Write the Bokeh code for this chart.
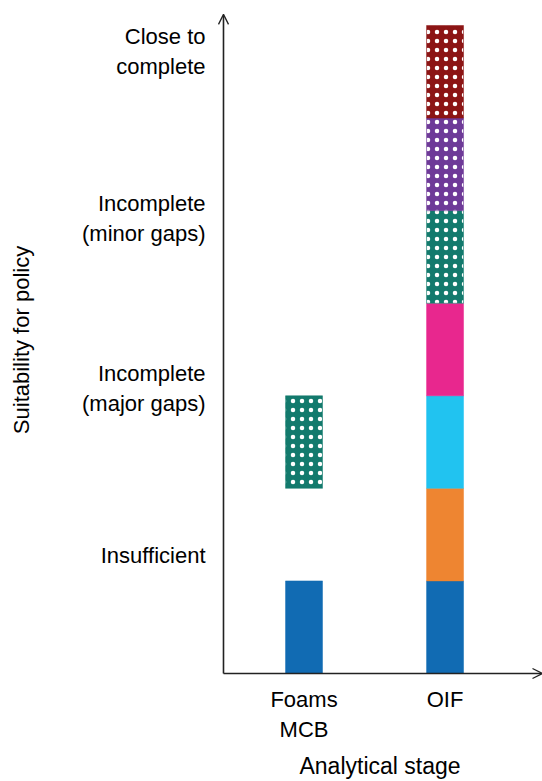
import math
from bokeh.plotting import figure
from bokeh.models import Range1d, FixedTicker, Arrow, OpenHead, ColumnDataSource
from bokeh.embed import file_html
from bokeh.resources import INLINE

# ---- data ----
stages = ["Foams\nMCB", "OIF"]
stage_pos = [1, 2]

levels = ["Insufficient", "Incomplete\n(major gaps)",
          "Incomplete\n(minor gaps)", "Close to\ncomplete"]
level_pos = [1.27, 3.08, 4.92, 6.72]

seg_stage = [1, 1, 2, 2, 2, 2, 2, 2, 2]
seg_bottom = [0, 2, 0, 1, 2, 3, 4, 5, 6]
seg_top = [1, 3, 1, 2, 3, 4, 5, 6, 7]
seg_color = ["#116bb3", "#137a6d", "#116bb3", "#ee8531", "#21c3f0",
             "#e8278e", "#137a6d", "#6e3a98", "#8c1515"]
seg_dotted = [False, True, False, False, False, False, True, True, True]

FONT = "Liberation Sans"
FS = "22px"

# axis origin (data) and visible ranges
ax_x = 0.429
x0, x1 = 0.3865, 2.691
y0, y1 = -0.065, 7.27
y_arrow = 7.12

p = figure(width=542, height=781, output_backend="svg", toolbar_location=None,
           x_range=Range1d(x0, x1), y_range=Range1d(y0, y1),
           min_border_left=217, min_border_right=0, min_border_top=0,
           min_border_bottom=102)
p.outline_line_color = None
p.grid.visible = False
p.background_fill_color = "white"

plain = [i for i, d in enumerate(seg_dotted) if not d]
dotted = [i for i, d in enumerate(seg_dotted) if d]

def src(idx):
    return ColumnDataSource(dict(
        x=[seg_stage[i] for i in idx],
        bottom=[seg_bottom[i] for i in idx],
        top=[seg_top[i] for i in idx],
        color=[seg_color[i] for i in idx]))

p.vbar(x="x", bottom="bottom", top="top", width=0.262, source=src(plain),
       fill_color="color", line_color="color", line_width=0.5)
p.vbar(x="x", bottom="bottom", top="top", width=0.262, source=src(dotted),
       fill_color="color", line_color="color", line_width=0.5,
       hatch_pattern="dot", hatch_color="white", hatch_scale=9,
       hatch_weight=1.4)

# axes
xa = p.xaxis[0]
xa.ticker = FixedTicker(ticks=stage_pos)
xa.major_label_overrides = {pos: lab for pos, lab in zip(stage_pos, stages)}
xa.axis_line_color = None
xa.major_tick_line_color = None
xa.minor_tick_line_color = None
xa.major_tick_out = 0
xa.major_tick_in = 0
xa.major_label_standoff = 7
xa.major_label_text_font = FONT
xa.major_label_text_font_size = FS
xa.major_label_text_color = "black"
xa.major_label_text_line_height = 1.2
xa.axis_label = "Analytical stage"
xa.axis_label_text_font = FONT
xa.axis_label_text_font_size = "23px"
xa.axis_label_text_font_style = "normal"
xa.axis_label_text_color = "black"
xa.axis_label_standoff = 8

ya = p.yaxis[0]
ya.ticker = FixedTicker(ticks=level_pos)
ya.major_label_overrides = {pos: lab for pos, lab in zip(level_pos, levels)}
ya.axis_line_color = None
ya.major_tick_line_color = None
ya.minor_tick_line_color = None
ya.major_tick_out = 0
ya.major_tick_in = 0
ya.major_label_standoff = 12
ya.major_label_text_font = FONT
ya.major_label_text_font_size = FS
ya.major_label_text_color = "black"
ya.major_label_text_line_height = 1.2
ya.axis_label = "Suitability for policy"
ya.axis_label_text_font = FONT
ya.axis_label_text_font_size = FS
ya.axis_label_text_font_style = "normal"
ya.axis_label_text_color = "black"
ya.axis_label_standoff = 45

# axis arrows
p.add_layout(Arrow(x_start=ax_x, y_start=0, x_end=ax_x, y_end=y_arrow,
                   line_color="#222222", line_width=1.6,
                   end=OpenHead(size=10, line_color="#222222", line_width=1.3)))
p.add_layout(Arrow(x_start=ax_x, y_start=0, x_end=x1, y_end=0,
                   line_color="#222222", line_width=1.6,
                   end=OpenHead(size=10, line_color="#222222", line_width=1.3)))

open("out.html", "w").write(file_html(p, INLINE))
